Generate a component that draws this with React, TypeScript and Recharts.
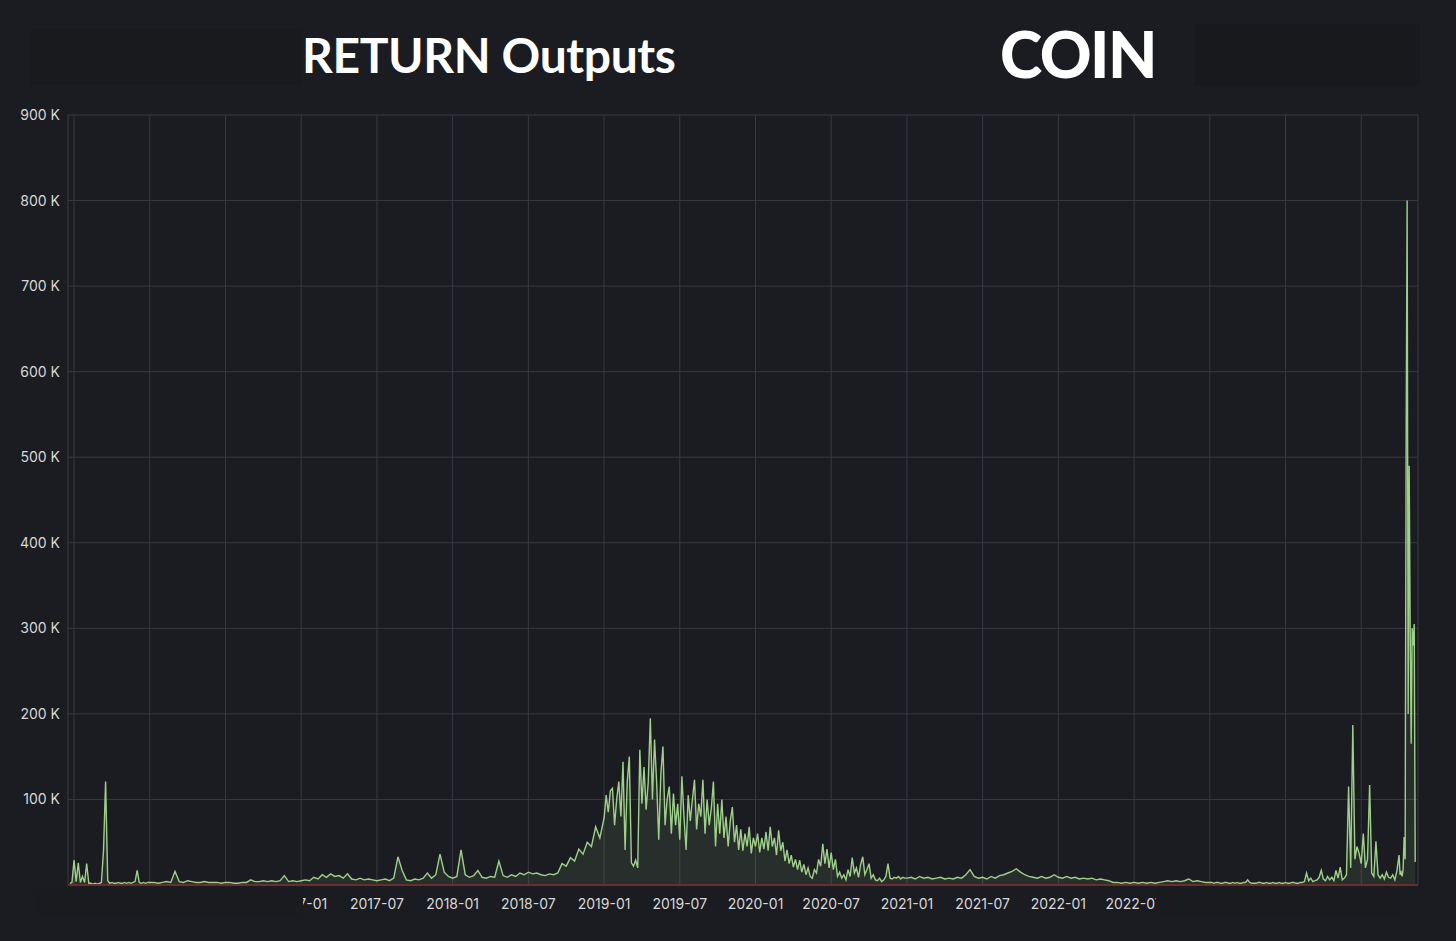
import React from 'react';
import { AreaChart, Area, XAxis, YAxis, CartesianGrid } from 'recharts';

// X positions are months since 2015-01 (t = 6 is 2015-07)
const tickMonths = [6, 12, 18, 24, 30, 36, 42, 48, 54, 60, 66, 72, 78, 84, 90, 96, 102, 108];
const tickLabels = ['', '', '', '2017-01', '2017-07', '2018-01', '2018-07', '2019-01', '2019-07', '2020-01', '2020-07', '2021-01', '2021-07', '2022-01', '2022-07', '', '', ''];
const yTicks = [0, 100, 200, 300, 400, 500, 600, 700, 800, 900];

// values in thousands of outputs
// ~5-day samples
const vals2015 = [
  2, 3, 29, 4, 26, 3, 10, 3, 25, 2, 2, 1, 2, 1, 2, 3, 40, 121, 5,
  2, 3, 2, 2, 3, 2, 2, 3, 2, 3, 2, 3, 4, 17, 3, 2, 3, 2, 3,
];
// ~10-day samples
const vals2016 = [3, 3, 2, 3, 4, 3, 16, 4, 3, 5, 4, 3, 3, 4, 3, 3, 3, 2, 3, 3, 2, 2, 3, 3, 6, 4, 4, 5, 4, 5, 4, 5, 11, 4, 5, 4];
const vals2017 = [5, 6, 5, 9, 7, 12, 9, 13, 10, 11, 8, 13, 7, 6, 8, 6, 7, 6, 5, 6, 7, 5, 8, 33, 17, 6, 5, 7, 6, 8, 14, 8, 12, 36, 15, 10];
const vals2018 = [8, 10, 41, 12, 9, 11, 17, 9, 8, 10, 9, 28, 11, 9, 12, 10, 14, 12, 15, 13, 14, 12, 11, 13, 12, 14, 25, 22, 32, 28, 42, 36, 50, 45, 68, 55];
// ~5-day samples through the 2019-2020 hump
const vals2019 = [
  78, 105, 85, 110, 113, 70, 100, 121, 80, 144, 41, 120, 150, 26, 22, 29, 20, 158, 95, 138, 88, 120, 195, 100,
  170, 120, 53, 130, 162, 70, 100, 115, 60, 107, 70, 95, 53, 127, 80, 41, 105, 75, 100, 123, 65, 95, 80, 123,
  60, 100, 70, 90, 121, 45, 95, 60, 100, 55, 80, 45, 75, 91, 50, 70, 41, 65, 40, 60, 45, 68, 37, 55,
];
const vals2020 = [
  45, 60, 38, 55, 42, 62, 40, 68, 45, 55, 35, 64, 40, 50, 28, 41, 25, 35, 21, 30, 18, 29, 15, 24,
  12, 20, 10, 8, 18, 14, 30, 22, 48, 25, 42, 20, 38, 18, 30, 10, 15, 8, 12, 6, 18, 10, 32, 14,
  20, 9, 24, 33, 12, 18, 25, 8, 12, 6, 5, 8, 4, 6, 10, 25, 8, 7, 9, 8, 10, 7, 9, 8,
];
// ~10-day samples
const vals2021 = [8, 9, 7, 10, 8, 9, 7, 8, 9, 7, 8, 7, 9, 8, 12, 18, 10, 8, 9, 7, 10, 8, 11, 12, 14, 16, 19, 15, 12, 10, 9, 8, 10, 8, 9, 12];
const vals2022 = [9, 8, 10, 8, 9, 7, 8, 7, 8, 6, 7, 6, 5, 3, 3, 2, 3, 2, 3, 2, 3, 2, 3, 2, 3, 4, 5, 4, 5, 4, 5, 7, 4, 5, 4, 3];
// ~5-day samples
const vals2023 = [
  3, 3, 2, 3, 3, 2, 2, 3, 3, 2, 2, 3, 2, 3, 2, 2, 3, 3, 6, 3, 2, 2, 2, 3,
  3, 2, 2, 3, 2, 2, 3, 2, 2, 3, 2, 2, 3, 2, 2, 3, 3, 2, 2, 3, 3, 4, 14, 5, 8, 4, 5, 6,
  9, 17, 7, 5, 10, 6, 9, 5, 17, 8, 21, 6, 8, 12, 115, 20, 187, 30, 45, 37,
];
const vals2024 = [25, 60, 20, 30, 117, 14, 10, 51, 12, 8, 12, 7, 15, 9, 8, 12, 6, 17];
// final weeks of 2024, ~2.4-day samples
const valsFinal = [35, 12, 15, 10, 18, 56, 30, 520, 800, 200, 490, 300, 165, 300, 280, 305, 27];

const STEP = 1 / 3;
const HALF = 1 / 6;
const segments = [
  { start: 17 / 3, step: HALF, values: vals2015 },
  { start: 12, step: STEP, values: vals2016 },
  { start: 24, step: STEP, values: vals2017 },
  { start: 36, step: STEP, values: vals2018 },
  { start: 48, step: HALF, values: vals2019 },
  { start: 60, step: HALF, values: vals2020 },
  { start: 72, step: STEP, values: vals2021 },
  { start: 84, step: STEP, values: vals2022 },
  { start: 96, step: HALF, values: vals2023 },
  { start: 108, step: HALF, values: vals2024 },
  { start: 111, step: 0.08, values: valsFinal },
];

const data = segments.flatMap((s) => s.values.map((v, i) => ({ t: s.start + i * s.step, v })));

const BG = '#1b1c21';
const LINE = '#9fd08a';
const tickFont = 'Inter, Roboto, "DejaVu Sans", sans-serif';

export default function App() {
  return (
    <div style={{ position: 'fixed', top: 0, left: 0, width: 1456, height: 941, background: BG, overflow: 'hidden' }}>
      <AreaChart width={1456} height={941} data={data} margin={{ top: 115, right: 38, bottom: 26, left: 8 }}>
        <CartesianGrid stroke="#393a40" strokeWidth={1} />
        <XAxis
          type="number"
          dataKey="t"
          domain={[5.52, 112.5]}
          ticks={tickMonths}
          allowDataOverflow
          height={30}
          tickLine={false}
          tickMargin={8}
          axisLine={{ stroke: '#6a2f2c', strokeWidth: 2 }}
          tickFormatter={(v: number) => tickLabels[tickMonths.indexOf(v)] ?? ''}
          tick={{ fill: '#d8d8d8', fontSize: 14, fontFamily: tickFont }}
        />
        <YAxis
          width={60}
          domain={[0, 900]}
          ticks={yTicks}
          allowDataOverflow
          tickLine={false}
          axisLine={false}
          tickFormatter={(v: number) => (v === 0 ? '' : `${v} K`)}
          tick={{ fill: '#d8d8d8', fontSize: 14, fontFamily: tickFont }}
        />
        <Area
          type="linear"
          dataKey="v"
          stroke={LINE}
          strokeWidth={1.4}
          fill={LINE}
          fillOpacity={0.1}
          dot={false}
          activeDot={false}
          isAnimationActive={false}
        />
      </AreaChart>
      <svg width={1456} height={941} style={{ position: 'absolute', top: 0, left: 0, pointerEvents: 'none' }}>
        <rect x={30} y={30} width={272} height={56} fill="#191a1e" />
        <rect x={1195} y={24} width={225} height={62} fill="#18191d" />
        <rect x={38} y={889} width={265} height={25} fill="#1a1b1f" />
        <rect x={1156} y={889} width={244} height={25} fill="#1a1b1f" />
        <text x={302} y={73} fill="#ffffff" fontFamily="Lato, 'Open Sans', sans-serif" fontWeight={700} fontSize={48} letterSpacing={-0.4}>
          RETURN Outputs
        </text>
        <text x={1000} y={78} fill="#ffffff" fontFamily="Lato, 'Open Sans', sans-serif" fontWeight={900} fontSize={64} letterSpacing={-1.5}>
          COIN
        </text>
      </svg>
    </div>
  );
}
